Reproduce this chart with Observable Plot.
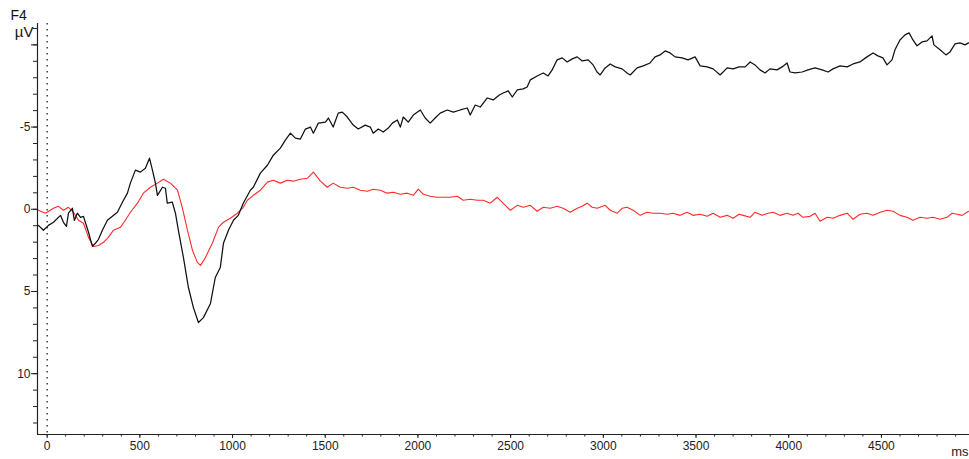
<!DOCTYPE html>
<html>
<head>
<meta charset="utf-8">
<script src="https://cdn.jsdelivr.net/npm/d3@7"></script>
<script src="https://cdn.jsdelivr.net/npm/@observablehq/plot@0.6"></script>
<style>
  html, body { margin: 0; padding: 0; background: #fff; }
  svg { display: block; }
</style>
</head>
<body>
<div id="chart"></div>
<script>
// ERP average at channel F4, two conditions (black and red traces)
const channel = "F4";
const unitY = "µV";
const unitX = "ms";

const blackMs = [-52,-47,-20,7,34,72,88,104,115,136,147,163,180,196,206,223,244,260,277,298,325,379,406,433,449,476,503,530,552,568,584,595,622,638,648,675,692,708,735,762,789,816,843,881,907,934,951,978,1005,1031,1058,1096,1112,1150,1188,1220,1258,1285,1312,1339,1366,1393,1420,1436,1463,1501,1517,1543,1570,1592,1619,1651,1678,1716,1743,1759,1786,1813,1840,1862,1889,1905,1921,1948,1975,2013,2039,2066,2093,2120,2158,2191,2228,2266,2282,2309,2336,2374,2406,2439,2460,2487,2509,2536,2568,2589,2606,2643,2676,2702,2724,2751,2778,2805,2832,2859,2886,2918,2945,2966,2983,3010,3037,3064,3101,3128,3145,3182,3215,3252,3279,3306,3333,3360,3387,3425,3457,3495,3522,3560,3592,3630,3668,3700,3732,3765,3792,3818,3845,3872,3899,3937,3964,3991,4007,4034,4072,4104,4142,4180,4212,4239,4277,4315,4347,4384,4422,4455,4481,4508,4530,4557,4573,4600,4627,4649,4670,4692,4719,4746,4773,4783,4816,4848,4870,4897,4924,4951,4970];
const blackUv = [1.0,0.98,1.28,0.98,0.79,0.37,0.79,1.04,0.24,-0.06,0.67,0.24,0.49,0.43,0.79,1.40,2.26,2.07,1.83,1.28,0.67,0.18,-0.43,-0.98,-1.59,-2.38,-2.26,-2.50,-3.11,-2.38,-1.59,-0.85,-1.34,-1.28,-0.37,-0.43,0.24,1.28,2.93,4.76,5.98,6.89,6.59,5.73,4.15,3.54,2.07,1.28,0.67,0.37,-0.37,-1.16,-1.34,-2.20,-2.68,-3.29,-3.72,-4.21,-4.63,-4.33,-4.27,-4.88,-5.00,-4.63,-5.24,-5.30,-5.55,-5.00,-5.85,-5.91,-5.61,-5.12,-4.88,-5.12,-5.00,-4.63,-4.88,-4.70,-4.94,-5.24,-5.43,-5.00,-5.61,-5.30,-5.73,-6.04,-5.55,-5.24,-5.55,-5.85,-6.04,-5.91,-6.04,-6.16,-5.73,-6.34,-6.22,-6.77,-6.65,-6.95,-7.07,-7.20,-6.83,-7.26,-7.32,-7.44,-7.87,-8.11,-8.29,-8.11,-8.48,-9.09,-9.21,-8.96,-9.15,-9.27,-9.02,-9.09,-8.78,-8.35,-8.17,-8.60,-8.84,-8.66,-8.54,-8.29,-8.17,-8.60,-8.72,-8.90,-9.27,-9.39,-9.63,-9.51,-9.27,-9.21,-9.09,-9.27,-8.72,-8.66,-8.54,-8.17,-8.60,-8.54,-8.66,-8.66,-8.96,-8.78,-8.48,-8.29,-8.54,-8.48,-8.66,-8.90,-8.35,-8.29,-8.35,-8.48,-8.60,-8.48,-8.35,-8.54,-8.72,-8.66,-8.84,-8.96,-9.27,-9.51,-9.33,-9.21,-8.78,-9.09,-9.70,-10.30,-10.61,-10.73,-10.30,-9.94,-10.18,-10.24,-10.55,-10.00,-9.70,-9.39,-9.57,-10.06,-10.12,-10.00,-10.12];

const redMs = [-52,-47,-9,34,61,88,115,142,169,196,223,250,277,304,330,357,395,422,449,487,519,557,595,627,665,703,730,757,784,810,827,854,891,924,951,988,1026,1058,1080,1112,1150,1188,1220,1258,1296,1328,1366,1404,1436,1474,1511,1543,1581,1619,1651,1689,1727,1759,1797,1834,1867,1905,1942,1975,2002,2029,2066,2104,2136,2174,2212,2244,2282,2320,2352,2390,2428,2471,2498,2536,2568,2606,2643,2676,2713,2751,2783,2821,2859,2886,2913,2940,2967,3010,3037,3075,3101,3128,3161,3199,3236,3268,3306,3344,3376,3414,3452,3484,3522,3560,3592,3630,3668,3700,3732,3754,3792,3818,3856,3889,3916,3953,3991,4023,4050,4077,4115,4142,4169,4207,4239,4277,4315,4347,4384,4422,4455,4493,4530,4563,4600,4638,4670,4708,4746,4778,4816,4854,4881,4908,4935,4970];
const redUv = [0.05,0.06,0.24,-0.06,-0.18,0.06,-0.12,0.18,0.67,0.85,1.71,2.26,2.20,2.01,1.71,1.28,1.10,0.67,0.18,-0.37,-0.98,-1.34,-1.59,-1.83,-1.59,-1.16,-0.06,1.28,2.50,3.23,3.41,2.93,2.07,1.10,0.79,0.55,0.24,-0.12,-0.55,-0.85,-1.16,-1.65,-1.77,-1.59,-1.77,-1.71,-1.83,-1.89,-2.26,-1.71,-1.34,-1.59,-1.34,-1.28,-1.34,-1.16,-1.10,-1.22,-1.16,-0.98,-1.04,-0.91,-0.98,-0.85,-1.22,-0.91,-0.79,-0.73,-0.73,-0.73,-0.79,-0.55,-0.61,-0.55,-0.55,-0.37,-0.73,-0.24,0.06,-0.24,-0.12,-0.24,0.12,-0.12,-0.06,-0.18,-0.06,0.18,-0.06,-0.18,-0.37,-0.12,-0.06,-0.24,0.06,0.24,-0.06,-0.12,0.06,0.37,0.18,0.24,0.24,0.30,0.24,0.37,0.18,0.37,0.30,0.43,0.24,0.49,0.37,0.55,0.30,0.37,0.49,0.18,0.37,0.24,0.18,0.37,0.24,0.37,0.24,0.49,0.43,0.24,0.73,0.49,0.55,0.37,0.24,0.61,0.30,0.24,0.37,0.18,0.06,0.12,0.37,0.49,0.67,0.49,0.55,0.49,0.61,0.49,0.24,0.30,0.37,0.12];

// Axis ticks
const xTickValues = [0, 500, 1000, 1500, 2000, 2500, 3000, 3500, 4000, 4500];
const xMinorTicks = d3.range(0, 4901, 100);
const yMajorTicks = [-10, -5, 0, 5, 10];
const yTickLabels = [-5, 0, 5, 10];
const yMinorTicks = d3.range(-11, 14, 1);

const xDomain = [-52, 4975];
const yDomain = [-11.3, 13.7];

const black = blackMs.map((t, i) => ({t, v: blackUv[i]}));
const red = redMs.map((t, i) => ({t, v: redUv[i]}));

const ink = "#222";

const chart = Plot.plot({
  width: 969,
  height: 459,
  marginLeft: 37,
  marginRight: 0,
  marginTop: 23,
  marginBottom: 25,
  x: {domain: xDomain, label: null},
  y: {domain: yDomain, reverse: true, label: null},
  style: {
    fontFamily: "'Liberation Sans', Arial, sans-serif",
    fontSize: "12px",
    color: ink,
    background: "#fff",
    overflow: "visible"
  },
  marks: [
    // stimulus onset
    Plot.ruleX([0], {stroke: ink, strokeWidth: 1.3, strokeDasharray: "1.5,4.5"}),
    Plot.line(red, {x: "t", y: "v", stroke: "#ff2a2a", strokeWidth: 1.1}),
    Plot.line(black, {x: "t", y: "v", stroke: "#111", strokeWidth: 1.25}),
    // axis lines
    Plot.ruleX([xDomain[0]], {stroke: ink, strokeWidth: 1.2}),
    Plot.ruleY([yDomain[1]], {stroke: ink, strokeWidth: 1.2}),
    Plot.axisY({ticks: yMinorTicks, tickSize: 4, tickFormat: () => ""}),
    Plot.axisY({ticks: yMajorTicks, tickSize: 6, tickPadding: 1,
      tickFormat: d => yTickLabels.includes(d) ? String(d) : ""}),
    Plot.axisX({ticks: xMinorTicks, tickSize: 2.5, tickFormat: () => ""}),
    Plot.axisX({ticks: xTickValues, tickSize: 4, tickPadding: 3, tickFormat: d => String(d)}),
    // channel and unit labels
    Plot.text([channel], {text: d => d, frameAnchor: "top-left", dx: -27, dy: -8,
      textAnchor: "start", lineAnchor: "middle", fontSize: 14, fill: "#111"}),
    Plot.text([unitY], {text: d => d, frameAnchor: "top-left", dx: -4, dy: 9,
      textAnchor: "end", lineAnchor: "middle", fontSize: 15, fill: "#111"}),
    Plot.text([unitX], {text: d => d, frameAnchor: "bottom-right", dx: -1, dy: 17,
      textAnchor: "end", lineAnchor: "middle", fontSize: 13, fill: ink})
  ]
});

document.getElementById("chart").appendChild(chart);
</script>
</body>
</html>
